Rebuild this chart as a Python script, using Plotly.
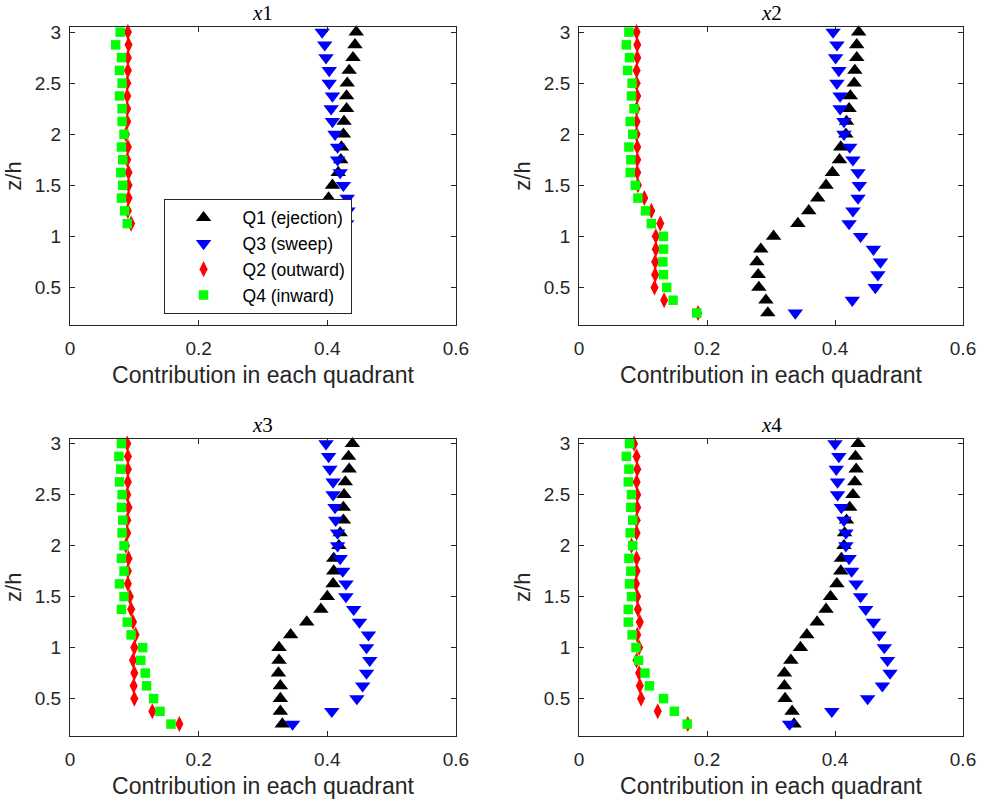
import plotly.graph_objects as go

# ---------------- data ----------------
z_levels = [3.0, 2.875, 2.75, 2.625, 2.5, 2.375, 2.25, 2.125, 2.0, 1.875, 1.75, 1.625,
            1.5, 1.375, 1.25, 1.125, 1.0, 0.875, 0.75, 0.625, 0.5, 0.375, 0.25]

panel_names = ["x1", "x2", "x3", "x4"]

# x1 (only upper 16 levels measured)
x1_q1 = [0.445, 0.443, 0.440, 0.434, 0.431, 0.430, 0.430, 0.426, 0.425, 0.422, 0.421, 0.417,
         0.408, 0.402, 0.400, 0.398]
x1_q3 = [0.392, 0.396, 0.398, 0.403, 0.403, 0.408, 0.406, 0.408, 0.412, 0.416, 0.416, 0.420,
         0.425, 0.431, 0.432, 0.430]
x1_q2 = [0.090, 0.091, 0.090, 0.090, 0.089, 0.089, 0.089, 0.089, 0.087, 0.090, 0.089, 0.091,
         0.091, 0.091, 0.090, 0.095]
x1_q4 = [0.078, 0.071, 0.080, 0.077, 0.081, 0.077, 0.081, 0.081, 0.084, 0.080, 0.082, 0.079,
         0.082, 0.080, 0.085, 0.089]

x2_q1 = [0.437, 0.434, 0.434, 0.431, 0.430, 0.424, 0.422, 0.418, 0.417, 0.409, 0.407, 0.396,
         0.386, 0.373, 0.359, 0.342, 0.304, 0.284, 0.278, 0.280, 0.281, 0.292, 0.295]
x2_q3 = [0.397, 0.403, 0.401, 0.406, 0.403, 0.408, 0.408, 0.414, 0.414, 0.423, 0.428, 0.436,
         0.438, 0.436, 0.428, 0.422, 0.440, 0.460, 0.471, 0.467, 0.463, 0.427, 0.338]
x2_q2 = [0.090, 0.091, 0.091, 0.090, 0.090, 0.091, 0.090, 0.090, 0.090, 0.091, 0.091, 0.091,
         0.092, 0.102, 0.113, 0.127, 0.120, 0.120, 0.119, 0.119, 0.118, 0.133, 0.186]
x2_q4 = [0.078, 0.074, 0.079, 0.076, 0.083, 0.082, 0.086, 0.080, 0.084, 0.078, 0.081, 0.080,
         0.088, 0.092, 0.104, 0.113, 0.132, 0.132, 0.131, 0.132, 0.137, 0.147, 0.184]

x3_q1 = [0.439, 0.433, 0.434, 0.428, 0.426, 0.425, 0.425, 0.420, 0.418, 0.410, 0.410, 0.409,
         0.400, 0.390, 0.368, 0.343, 0.325, 0.325, 0.324, 0.327, 0.327, 0.327, 0.330]
x3_q3 = [0.398, 0.402, 0.404, 0.409, 0.409, 0.412, 0.413, 0.416, 0.416, 0.420, 0.424, 0.429,
         0.429, 0.441, 0.450, 0.464, 0.461, 0.466, 0.461, 0.455, 0.446, 0.407, 0.346]
x3_q2 = [0.089, 0.090, 0.090, 0.090, 0.089, 0.091, 0.089, 0.089, 0.087, 0.091, 0.090, 0.090,
         0.093, 0.095, 0.098, 0.102, 0.100, 0.098, 0.100, 0.099, 0.100, 0.128, 0.170]
x3_q4 = [0.080, 0.076, 0.079, 0.077, 0.081, 0.080, 0.082, 0.081, 0.084, 0.080, 0.084, 0.077,
         0.084, 0.080, 0.089, 0.095, 0.113, 0.110, 0.117, 0.119, 0.130, 0.140, 0.157]

x4_q1 = [0.436, 0.432, 0.433, 0.431, 0.428, 0.423, 0.418, 0.415, 0.414, 0.410, 0.409, 0.403,
         0.393, 0.386, 0.372, 0.356, 0.346, 0.331, 0.321, 0.321, 0.322, 0.333, 0.336]
x4_q3 = [0.400, 0.406, 0.402, 0.404, 0.404, 0.410, 0.414, 0.417, 0.417, 0.422, 0.426, 0.433,
         0.440, 0.448, 0.460, 0.469, 0.477, 0.482, 0.486, 0.474, 0.451, 0.395, 0.329]
x4_q2 = [0.086, 0.090, 0.091, 0.090, 0.091, 0.091, 0.090, 0.090, 0.082, 0.090, 0.090, 0.089,
         0.091, 0.092, 0.095, 0.091, 0.094, 0.090, 0.094, 0.095, 0.097, 0.123, 0.170]
x4_q4 = [0.079, 0.074, 0.078, 0.077, 0.082, 0.081, 0.084, 0.080, 0.084, 0.078, 0.081, 0.079,
         0.082, 0.077, 0.077, 0.083, 0.089, 0.093, 0.103, 0.110, 0.132, 0.149, 0.169]

series_names = ["Q1 (ejection)", "Q3 (sweep)", "Q2 (outward)", "Q4 (inward)"]
x_ticks = [0, 0.2, 0.4, 0.6]
x_tick_text = ["0", "0.2", "0.4", "0.6"]
y_ticks = [0.5, 1, 1.5, 2, 2.5, 3]
y_tick_text = ["0.5", "1", "1.5", "2", "2.5", "3"]
x_label = "Contribution in each quadrant"
y_label = "z/h"

panels = [
    [x1_q1, x1_q3, x1_q2, x1_q4],
    [x2_q1, x2_q3, x2_q2, x2_q4],
    [x3_q1, x3_q3, x3_q2, x3_q4],
    [x4_q1, x4_q3, x4_q2, x4_q4],
]

# ---------------- styles ----------------
symbols = ["triangle-up", "triangle-down", "diamond-tall", "square"]
colors = ["#000000", "#0000FF", "#FF0000", "#00FF00"]
sizes = [13.5, 13.5, 11.5, 9.5]

FONT = "Liberation Sans, Arial, Helvetica, sans-serif"
AX_COLOR = "#262626"

x_domains = [[0.0, 0.4322], [0.57, 1.0], [0.0, 0.4322], [0.57, 1.0]]
y_domains = [[0.5798, 1.0], [0.5798, 1.0], [0.0, 0.4195], [0.0, 0.4195]]

fig = go.Figure()

for p, series in enumerate(panels):
    ax = "" if p == 0 else str(p + 1)
    for s, xs in enumerate(series):
        fig.add_trace(go.Scatter(
            x=xs, y=z_levels[:len(xs)], mode="markers",
            name=series_names[s], showlegend=(p == 0),
            marker=dict(symbol=symbols[s], color=colors[s], size=sizes[s],
                        line=dict(width=0)),
            cliponaxis=False,
            xaxis="x" + ax, yaxis="y" + ax,
        ))

axis_common = dict(
    showline=True, linecolor=AX_COLOR, linewidth=1, mirror="ticks",
    ticks="inside", ticklen=5, tickwidth=1, tickcolor=AX_COLOR,
    showgrid=False, zeroline=False,
    tickfont=dict(family=FONT, size=19, color=AX_COLOR),
)

layout = dict(
    width=988, height=807,
    margin=dict(l=67, r=21, t=27, b=66),
    paper_bgcolor="white", plot_bgcolor="white",
    showlegend=True,
    legend=dict(
        x=0.1048, y=0.7577, xanchor="left", yanchor="top",
        bgcolor="white", bordercolor=AX_COLOR, borderwidth=1,
        font=dict(family=FONT, size=17.5, color="#000000"),
        itemwidth=68, tracegroupgap=0,
    ),
    annotations=[],
)

for p in range(4):
    ax = "" if p == 0 else str(p + 1)
    layout["xaxis" + ax] = dict(
        axis_common, domain=x_domains[p], range=[0, 0.6], anchor="y" + ax,
        tickvals=x_ticks, ticktext=x_tick_text, ticklabelstandoff=6,
        title=dict(text=x_label, font=dict(family=FONT, size=23, color=AX_COLOR), standoff=9),
    )
    layout["yaxis" + ax] = dict(
        axis_common, domain=y_domains[p], range=[0.133, 3.05], anchor="x" + ax,
        tickvals=y_ticks, ticktext=y_tick_text, ticklabelstandoff=4,
        title=dict(text=y_label, font=dict(family=FONT, size=22, color=AX_COLOR), standoff=7),
    )
    layout["annotations"].append(dict(
        text="<i>x</i>" + panel_names[p][1:],
        x=sum(x_domains[p]) / 2, y=y_domains[p][1], xref="paper", yref="paper",
        xanchor="center", yanchor="bottom", yshift=1, borderpad=0, showarrow=False,
        font=dict(family="Liberation Serif, Times New Roman, serif", size=21, color="#000000"),
    ))

fig.update_layout(**layout)
fig.write_html("out.html")
